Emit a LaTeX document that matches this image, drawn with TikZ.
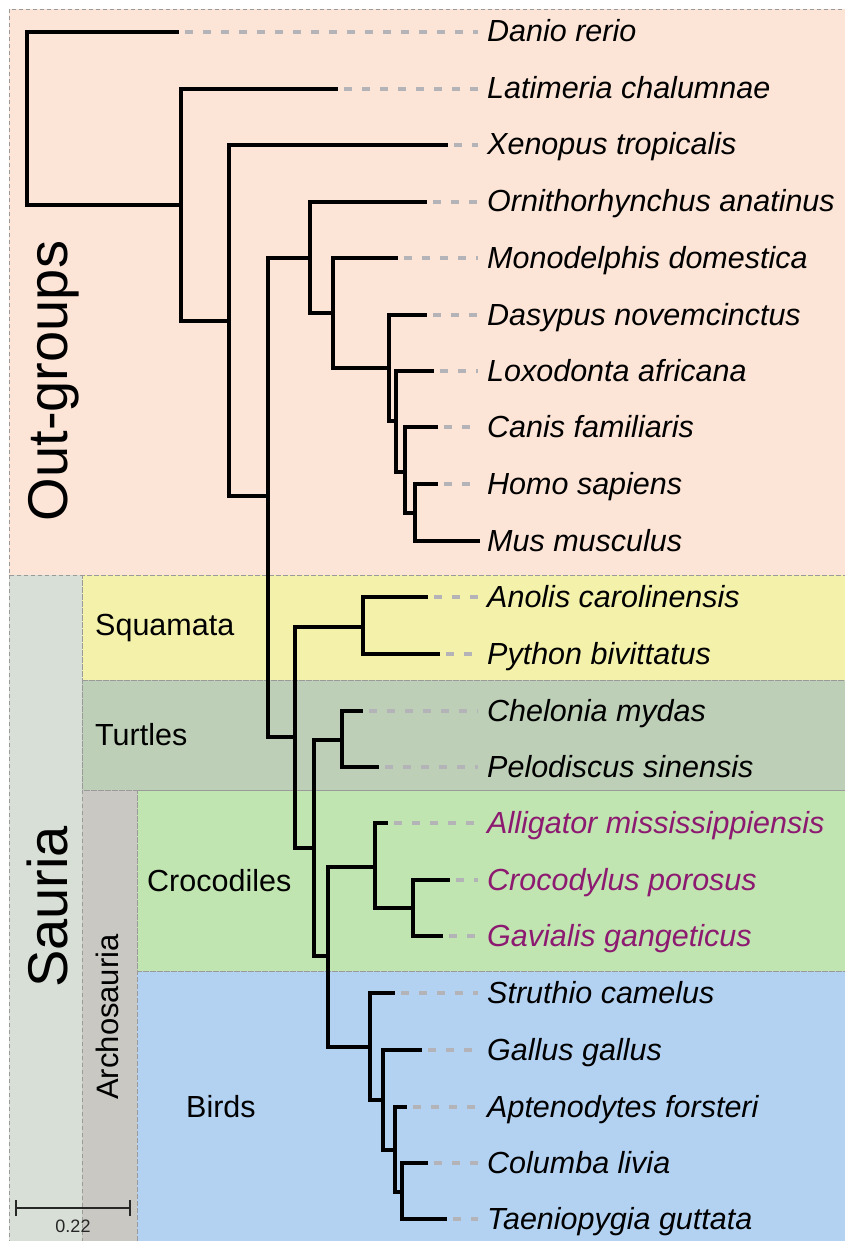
\documentclass[tikz,border=0pt]{standalone}
\usepackage{fontspec}
\setmainfont{Liberation Sans}
\definecolor{outgrp}{HTML}{FCE4D6}
\definecolor{sauriac}{HTML}{D7DFD6}
\definecolor{squamc}{HTML}{F4F1AA}
\definecolor{turtlec}{HTML}{BDCFB6}
\definecolor{archoc}{HTML}{C9C8C3}
\definecolor{crocc}{HTML}{C1E5B1}
\definecolor{birdc}{HTML}{B3D2F2}
\definecolor{crocname}{HTML}{8C1A70}
\definecolor{leadergray}{HTML}{B4B4B8}
\definecolor{bordergray}{HTML}{9A9A9A}
\tikzset{
  region/.style={draw=bordergray, line width=0.8pt, dash pattern=on 4pt off 3pt},
  branch/.style={line width=4.2pt, black},
  leader/.style={draw=leadergray, line width=3.3pt, dash pattern=on 8pt off 10pt, shorten <=6pt, shorten >=9pt},
  leaflab/.style={anchor=base west, inner sep=0pt, font=\fontsize{30.5}{36}\selectfont\itshape},
  grouplab/.style={anchor=base west, inner sep=0pt, font=\fontsize{30.5}{36}\selectfont},
  biglab/.style={anchor=base, inner sep=0pt, rotate=90, font=\fontsize{56}{64}\selectfont},
}
\newcommand\leafnode[5]{%
  \coordinate (#1t) at (#2,#3);
  \node[leaflab, text=#5] (#1) at (487,#3+10) {#4};
  \draw[leader] (#1t) -- (#1t -| #1.west);
}
\begin{document}
\begin{tikzpicture}[x=1pt, y=-1pt]
\useasboundingbox (0,0) rectangle (845,1241);
% regions
\fill[outgrp] (9,9) rectangle (850,575);
\fill[sauriac] (9,575) rectangle (82,1250);
\fill[squamc] (82,575) rectangle (850,680);
\fill[turtlec] (82,680) rectangle (850,790);
\fill[archoc] (82,790) rectangle (137,1250);
\fill[crocc] (137,790) rectangle (850,971);
\fill[birdc] (137,971) rectangle (850,1250);
\draw[region] (9,9) rectangle (850,575);
\draw[region] (9,575) rectangle (82,1250);
\draw[region] (82,575) rectangle (850,680);
\draw[region] (82,680) rectangle (850,790);
\draw[region] (82,790) rectangle (137,1250);
\draw[region] (137,790) rectangle (850,971);
\draw[region] (137,971) rectangle (850,1250);
% group labels
\node[biglab] (lout) at (67,381) {Out-groups};
\node[biglab] (lsau) at (67,907) {Sauria};
\node[biglab, font=\fontsize{31}{36}\selectfont] (larc) at (118,1017) {Archosauria};
\node[grouplab] (lsq) at (95,635) {Squamata};
\node[grouplab] (ltu) at (95,745) {Turtles};
\node[grouplab] (lcr) at (147,891) {Crocodiles};
\node[grouplab] (lbi) at (186,1117) {Birds};
% leaves
\leafnode{danio}{179}{32}{Danio rerio}{black}
\leafnode{lati}{338}{89}{Latimeria chalumnae}{black}
\leafnode{xeno}{448}{145}{Xenopus tropicalis}{black}
\leafnode{orni}{427}{202}{Ornithorhynchus anatinus}{black}
\leafnode{mono}{398}{258}{Monodelphis domestica}{black}
\leafnode{dasy}{427}{315}{Dasypus novemcinctus}{black}
\leafnode{loxo}{434}{371}{Loxodonta africana}{black}
\leafnode{cani}{438}{427}{Canis familiaris}{black}
\leafnode{homo}{438}{484}{Homo sapiens}{black}
\coordinate (must) at (480,541);
\node[leaflab] (mus) at (487,551) {Mus musculus};
\leafnode{anol}{428}{597}{Anolis carolinensis}{black}
\leafnode{pyth}{440}{654}{Python bivittatus}{black}
\leafnode{chel}{363}{711}{Chelonia mydas}{black}
\leafnode{pelo}{379}{767}{Pelodiscus sinensis}{black}
\leafnode{alli}{388}{823}{Alligator mississippiensis}{crocname}
\leafnode{croc}{450}{880}{Crocodylus porosus}{crocname}
\leafnode{gavi}{443}{936}{Gavialis gangeticus}{crocname}
\leafnode{stru}{395}{993}{Struthio camelus}{black}
\leafnode{gall}{422}{1050}{Gallus gallus}{black}
\leafnode{apte}{407}{1107}{Aptenodytes forsteri}{black}
\leafnode{colu}{428}{1163}{Columba livia}{black}
\leafnode{taen}{447}{1219}{Taeniopygia guttata}{black}
% internal nodes
\coordinate (root) at (27,118.5);
\coordinate (n1) at (181,205);
\coordinate (n2) at (229,321);
\coordinate (n3) at (268,496);
\coordinate (n4) at (310,258);
\coordinate (n5) at (333,313);
\coordinate (n6) at (389,368);
\coordinate (n7) at (396,421);
\coordinate (n8) at (405,472);
\coordinate (n9) at (415,513);
\coordinate (n10) at (295,737);
\coordinate (n11) at (363,627);
\coordinate (n12) at (314,848);
\coordinate (n13) at (342,740);
\coordinate (n14) at (328,956);
\coordinate (n15) at (375,867);
\coordinate (n16) at (413,908);
\coordinate (n17) at (370,1047);
\coordinate (n18) at (383,1100);
\coordinate (n19) at (395,1150);
\coordinate (n20) at (402,1192);
% branches
\draw[branch] (root) |- (daniot);
\draw[branch] (root) |- (n1);
\draw[branch] (n1) |- (latit);
\draw[branch] (n1) |- (n2);
\draw[branch] (n2) |- (xenot);
\draw[branch] (n2) |- (n3);
\draw[branch] (n3) |- (n4);
\draw[branch] (n3) |- (n10);
\draw[branch] (n4) |- (ornit);
\draw[branch] (n4) |- (n5);
\draw[branch] (n5) |- (monot);
\draw[branch] (n5) |- (n6);
\draw[branch] (n6) |- (dasyt);
\draw[branch] (n6) |- (n7);
\draw[branch] (n7) |- (loxot);
\draw[branch] (n7) |- (n8);
\draw[branch] (n8) |- (canit);
\draw[branch] (n8) |- (n9);
\draw[branch] (n9) |- (homot);
\draw[branch] (n9) |- (must);
\draw[branch] (n10) |- (n11);
\draw[branch] (n10) |- (n12);
\draw[branch] (n11) |- (anolt);
\draw[branch] (n11) |- (pytht);
\draw[branch] (n12) |- (n13);
\draw[branch] (n12) |- (n14);
\draw[branch] (n13) |- (chelt);
\draw[branch] (n13) |- (pelot);
\draw[branch] (n14) |- (n15);
\draw[branch] (n14) |- (n17);
\draw[branch] (n15) |- (allit);
\draw[branch] (n15) |- (n16);
\draw[branch] (n16) |- (croct);
\draw[branch] (n16) |- (gavit);
\draw[branch] (n17) |- (strut);
\draw[branch] (n17) |- (n18);
\draw[branch] (n18) |- (gallt);
\draw[branch] (n18) |- (n19);
\draw[branch] (n19) |- (aptet);
\draw[branch] (n19) |- (n20);
\draw[branch] (n20) |- (colut);
\draw[branch] (n20) |- (taent);
% scale bar
\coordinate (sba) at (16,1208);
\coordinate (sbb) at (130,1208);
\draw[line width=2pt, black!85] (sba) -- (sbb);
\draw[line width=2pt, black!85] ([yshift=8pt]sba) -- ([yshift=-8pt]sba);
\draw[line width=2pt, black!85] ([yshift=8pt]sbb) -- ([yshift=-8pt]sbb);
\node[anchor=base, inner sep=0pt, font=\fontsize{18}{20}\selectfont, text=black!85] (sbl) at (73,1232) {0.22};
\end{tikzpicture}
\end{document}
